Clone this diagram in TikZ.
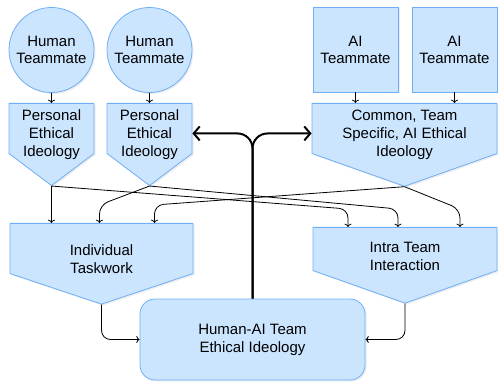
\documentclass[tikz,border=0pt]{standalone}
\usepackage{fontspec}
\setmainfont{Liberation Sans}
\usetikzlibrary{shapes.symbols,shadows,arrows.meta}

\definecolor{ideafill}{RGB}{204,229,255}
\definecolor{ideadraw}{RGB}{110,175,245}
\newcommand{\toppad}[1]{\rule{0pt}{#1}}

\tikzset{
  base/.style={draw=ideadraw,fill=ideafill,line width=0.8pt,align=center,inner sep=2pt,
    drop shadow={opacity=0.15,shadow xshift=1.5pt,shadow yshift=-1.5pt},
    font=\fontsize{15}{18}\selectfont},
  human/.style={base,circle,minimum size=85pt,font=\fontsize{15}{17}\selectfont},
  aibox/.style={base,rectangle,minimum width=85pt,minimum height=85pt,font=\fontsize{15}{17}\selectfont},
  ideology/.style={base,signal,signal from=nowhere,signal to=south,anchor=north,inner ysep=0pt},
  team/.style={base,rectangle,rounded corners=15pt,minimum width=225pt,minimum height=81pt},
  link/.style={->,black,line width=0.8pt,rounded corners=9pt},
  bond/.style={{Straight Barb[length=6pt,width=14pt]}-,black,line width=2pt,rounded corners=15pt},
}

\begin{document}
\begin{tikzpicture}[x=1pt,y=-1pt]
	\useasboundingbox (0,0) rectangle (498,382);
	% teammates
	\node[human] (hum1) at (51.5,50) {Human\\Teammate};
	\node[human] (hum2) at (149.5,50) {Human\\Teammate};
	\node[aibox] (ai1) at (355.5,49.5) {AI\\Teammate};
	\node[aibox] (ai2) at (454.5,49.5) {AI\\Teammate};
	% ideologies
	\node[ideology,inner ysep=-6pt,minimum width=85pt,minimum height=52pt,signal pointer angle=106] (pei1) at (51.5,103) {\toppad{23pt}Personal\\Ethical\\Ideology};
	\node[ideology,inner ysep=-6pt,minimum width=85pt,minimum height=52pt,signal pointer angle=106] (pei2) at (149.5,103) {\toppad{23pt}Personal\\Ethical\\Ideology};
	\node[ideology,inner ysep=-6pt,minimum width=185pt,minimum height=52pt,signal pointer angle=141] (common) at (404.5,103) {\toppad{23pt}Common, Team\\Specific, AI Ethical\\Ideology};
	\node[ideology,minimum width=183pt,minimum height=54pt,signal pointer angle=143] (ind) at (101.5,223) {\toppad{32pt}Individual\\Taskwork};
	\node[ideology,minimum width=184pt,minimum height=53pt,signal pointer angle=141] (intra) at (405,227) {\toppad{25pt}Intra Team\\Interaction};
	\node[team] (hai) at (252.5,339.5) {Human-AI Team\\Ethical Ideology};

	\foreach \from/\to in {hum1/pei1,hum2/pei2}
		\draw[link] (\from) -- (\to);
	\foreach \src in {ai1,ai2}
		\draw[link] (\src.south) -- (\src.south |- common.north);

	\draw[link] (pei1.south) -- (pei1.south |- ind.north);
	\foreach \src/\dst/\dx in {pei2/ind/-2,common/ind/53,pei1/intra/-57,pei2/intra/-7,common/intra/55}
		\draw[link] (\src.south) -- ([xshift=\dx pt,yshift=18pt]\dst.north) -- ([xshift=\dx pt]\dst.north);

	\draw[bond] ([yshift=-5pt]pei2.east) -| (hai.north);
	\draw[bond] ([yshift=-5pt]common.west) -| (hai.north);

	\draw[link] (ind.south) |- (hai.west);
	\draw[link] (intra.south) |- (hai.east);
\end{tikzpicture}
\end{document}
